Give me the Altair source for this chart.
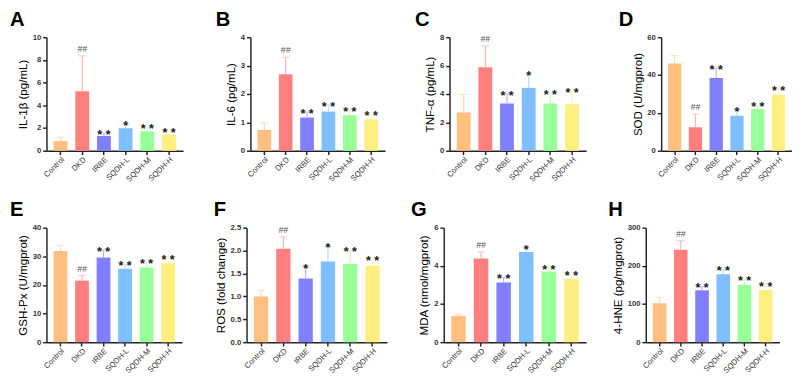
import altair as alt
import pandas as pd

groups = ["Control", "DKD", "IRBE", "SQDH-L", "SQDH-M", "SQDH-H"]
bar_colors = ["#FFBF80", "#FF7F7F", "#8080FF", "#80BFFF", "#99FF99", "#FFEE80"]
err_colors = ["#FFD9B3", "#FFB3B3", "#B3B3FF", "#B3D9FF", "#C2FFC2", "#FFF5B3"]

# A: IL-1beta
il1b_mean = [0.85, 5.24, 1.30, 1.98, 1.70, 1.44]
il1b_err = [1.20, 8.36, 1.56, 2.30, 2.07, 1.76]
il1b_sig = ["", "##", "**", "*", "**", "**"]
# B: IL-6
il6_mean = [0.73, 2.70, 1.17, 1.38, 1.25, 1.11]
il6_err = [0.97, 3.30, 1.36, 1.61, 1.43, 1.27]
il6_sig = ["", "##", "**", "**", "**", "**"]
# C: TNF-alpha
tnf_mean = [2.70, 5.88, 3.33, 4.43, 3.33, 3.29]
tnf_err = [3.97, 7.39, 4.01, 5.39, 4.06, 4.17]
tnf_sig = ["", "##", "**", "*", "**", "**"]
# D: SOD
sod_mean = [46.1, 12.4, 38.4, 18.5, 22.1, 29.6]
sod_err = [50.3, 19.4, 43.7, 21.6, 24.0, 32.6]
sod_sig = ["", "##", "**", "*", "**", "**"]
# E: GSH-Px
gsh_mean = [31.9, 21.5, 29.6, 25.7, 26.1, 27.6]
gsh_err = [33.8, 23.3, 32.2, 27.1, 28.1, 29.2]
gsh_sig = ["", "##", "**", "**", "**", "**"]
# F: ROS
ros_mean = [1.00, 2.04, 1.39, 1.76, 1.71, 1.67]
ros_err = [1.13, 2.30, 1.64, 2.09, 2.00, 1.82]
ros_sig = ["", "##", "*", "*", "**", "**"]
# G: MDA
mda_mean = [1.38, 4.39, 3.13, 4.73, 3.71, 3.32]
mda_err = [1.46, 4.73, 3.40, 4.94, 3.90, 3.55]
mda_sig = ["", "##", "**", "*", "**", "**"]
# H: 4-HNE
hne_mean = [102, 242, 136, 178, 150, 137]
hne_err = [117, 266, 146, 190, 164, 149]
hne_sig = ["", "##", "**", "**", "**", "**"]

FONT = "Liberation Sans"


def panel(letter, ytitle, mean, err, sig, ymax, ticks, fmt, width, height, dx):
    df = pd.DataFrame({"group": groups, "mean": mean, "err": err, "sig": sig})
    xaxis = alt.Axis(title=None, labelAngle=-45, labelFontSize=8,
                     labelColor="#333333", labelFont=FONT,
                     labelPadding=1, tickSize=4, tickWidth=1.5,
                     domainWidth=1.5, domainColor="#222222",
                     tickColor="#222222", labelOverlap=False)
    xscale = alt.Scale(paddingInner=0.36, paddingOuter=0.33)
    yaxis = alt.Axis(title=ytitle, values=ticks, format=fmt, grid=False,
                     titleFontSize=12, titleFont=FONT,
                     titleFontWeight="normal", titleColor="black",
                     labelFontSize=8, labelColor="#333333",
                     labelFont=FONT, labelFontWeight="bold",
                     labelOverlap=False, labelFlush=False,
                     labelPadding=2, tickCount=len(ticks),
                     tickSize=4, tickWidth=1.5, domainWidth=1.5,
                     domainColor="#222222", tickColor="#222222",
                     titlePadding=3)
    yscale = alt.Scale(domain=[0, ymax], nice=False)

    def X():
        return alt.X("group:N", sort=groups, scale=xscale, axis=xaxis)

    def Y(field):
        return alt.Y(field, type="quantitative", scale=yscale, axis=yaxis)

    base = alt.Chart(df)
    bars = base.mark_bar().encode(
        x=X(), y=Y("mean"),
        color=alt.Color("group:N", sort=groups,
                        scale=alt.Scale(domain=groups, range=bar_colors),
                        legend=None))
    rule = base.mark_rule(strokeWidth=1.2).encode(
        x=X(), y=Y("mean"), y2="err:Q",
        color=alt.Color("group:N", sort=groups,
                        scale=alt.Scale(domain=groups, range=err_colors),
                        legend=None))
    cap = base.mark_tick(size=8, thickness=1.2).encode(
        x=X(), y=Y("err"),
        color=alt.Color("group:N", sort=groups,
                        scale=alt.Scale(domain=groups, range=err_colors),
                        legend=None))
    stars = base.transform_filter(alt.datum.sig != "##").transform_calculate(
        lab="replace(datum.sig, '**', '* *')").mark_text(
        fontSize=13, fontWeight="bold", font=FONT, color="#222222",
        baseline="alphabetic", dy=6).encode(
        x=X(), y=Y("err"), text="lab:N")
    hashes = base.transform_filter(alt.datum.sig == "##").mark_text(
        fontSize=9, font=FONT, color="#555555", fontStyle="italic",
        baseline="bottom", dy=-2).encode(
        x=X(), y=Y("err"), text="sig:N")
    return alt.layer(bars, rule, cap, stars, hashes).resolve_scale(
        color="independent").properties(
        width=width, height=height,
        title=alt.TitleParams(text=letter, anchor="start", frame="group",
                              fontSize=21, fontWeight="bold", font=FONT,
                              color="black", dx=dx, offset=4))


A = panel("A", "IL-1β (pg/mL)", il1b_mean, il1b_err, il1b_sig, 10, [0, 2, 4, 6, 8, 10], "d", 142, 118, -38)
B = panel("B", "IL-6 (pg/mL)", il6_mean, il6_err, il6_sig, 4, [0, 1, 2, 3, 4], "d", 140, 118, -36)
C = panel("C", "TNF-α (pg/mL)", tnf_mean, tnf_err, tnf_sig, 8, [0, 2, 4, 6, 8], "d", 142, 118, -36)
D = panel("D", "SOD (U/mgprot)", sod_mean, sod_err, sod_sig, 60, [0, 20, 40, 60], "d", 136, 118, -44)
E = panel("E", "GSH-Px (U/mgprot)", gsh_mean, gsh_err, gsh_sig, 40, [0, 10, 20, 30, 40], "d", 141, 119, -38)
F = panel("F", "ROS (fold change)", ros_mean, ros_err, ros_sig, 2.5, [0, 0.5, 1, 1.5, 2, 2.5], ".1f", 146, 119, -34)
G = panel("G", "MDA (nmol/mgprot)", mda_mean, mda_err, mda_sig, 6, [0, 2, 4, 6], "d", 148, 119, -34)
H = panel("H", "4-HNE (pg/mgprot)", hne_mean, hne_err, hne_sig, 300, [0, 100, 200, 300], "d", 139, 119, -39)

row1 = alt.hconcat(alt.hconcat(alt.hconcat(A, B, spacing=34), C, spacing=31), D, spacing=34)
row2 = alt.hconcat(alt.hconcat(alt.hconcat(E, F, spacing=33), G, spacing=25), H, spacing=23)
chart = alt.vconcat(row1, row2, spacing=17).properties(
    padding={"left": 2, "top": -6, "right": 0, "bottom": 0}
).configure_view(stroke=None)

chart.save("out.html", embed_options={"renderer": "svg", "actions": False})
